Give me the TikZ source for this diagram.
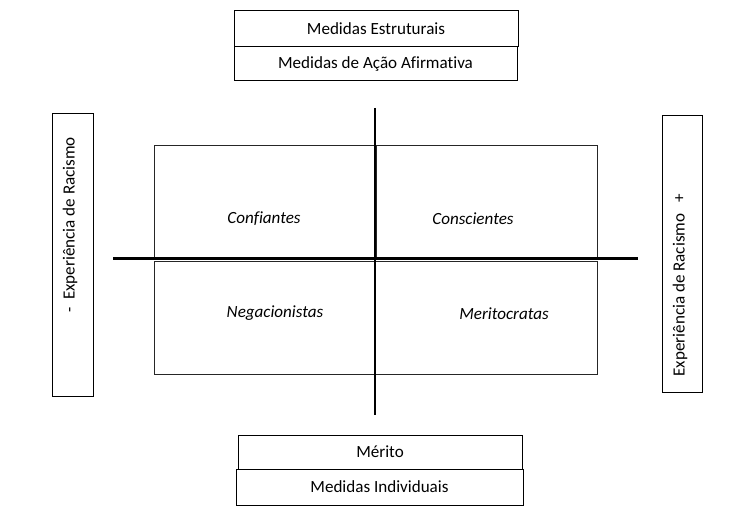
\documentclass[tikz,border=0pt]{standalone}
\usepackage{fontspec}
\setmainfont[Ligatures=CommonOff]{Carlito}
\begin{document}
\begin{tikzpicture}[x=0.75pt,y=-0.75pt,
  txt/.style={font=\fontsize{12.8}{14}\selectfont},
  box/.style={draw=black,line width=0.75pt,inner sep=0pt,txt},
  quad/.style={draw=black!85,line width=0.75pt,inner sep=0pt},
  lab/.style={font=\fontsize{12.8}{14}\selectfont\itshape},
  axis/.style={line width=1.6pt}]
\useasboundingbox (0,0) rectangle (734,513);
% top boxes
\node[box,minimum width=284*0.75pt,minimum height=36*0.75pt] (est) at (376,29) {Medidas Estruturais};
\node[box,minimum width=283*0.75pt,minimum height=34*0.75pt] (acao) at (375.5,64) {Medidas de Ação Afirmativa};
% bottom boxes
\node[box,minimum width=284*0.75pt,minimum height=34*0.75pt] (merito) at (380,452) {Mérito};
\node[box,minimum width=287*0.75pt,minimum height=36*0.75pt] (indiv) at (379.5,487) {Medidas Individuais};
% side boxes
\node[box,minimum width=41*0.75pt,minimum height=282*0.75pt] (left) at (72.5,255) {};
\node[txt,rotate=90] (lefttxt) at (70,225) {-\ \ Experiência de Racismo};
\node[box,minimum width=40*0.75pt,minimum height=276*0.75pt] (right) at (682,254) {};
\node[txt,rotate=90] (righttxt) at (680,285) {Experiência de Racismo\ \ \ +};
% quadrant rectangles
\node[quad,minimum width=222*0.75pt,minimum height=113*0.75pt] (q1) at (265,202.5) {};
\node[quad,minimum width=221*0.75pt,minimum height=113*0.75pt] (q2) at (486.5,202.5) {};
\node[quad,minimum width=443*0.75pt,minimum height=113*0.75pt] (q3) at (375.5,317.5) {};
% labels
\node[lab] (conf) at (264,219) {Confiantes};
\node[lab] (cons) at (473,219) {Conscientes};
\node[lab] (neg) at (275,313) {Negacionistas};
\node[lab] (mer) at (504,314) {Meritocratas};
% axes
\coordinate (vt) at (375,108);
\coordinate (vb) at (375,415);
\coordinate (hl) at (113,258.5);
\coordinate (hr) at (638,258.5);
\draw[axis] (vt) -- (vb);
\draw[axis] (hl) -- (hr);
\end{tikzpicture}
\end{document}
